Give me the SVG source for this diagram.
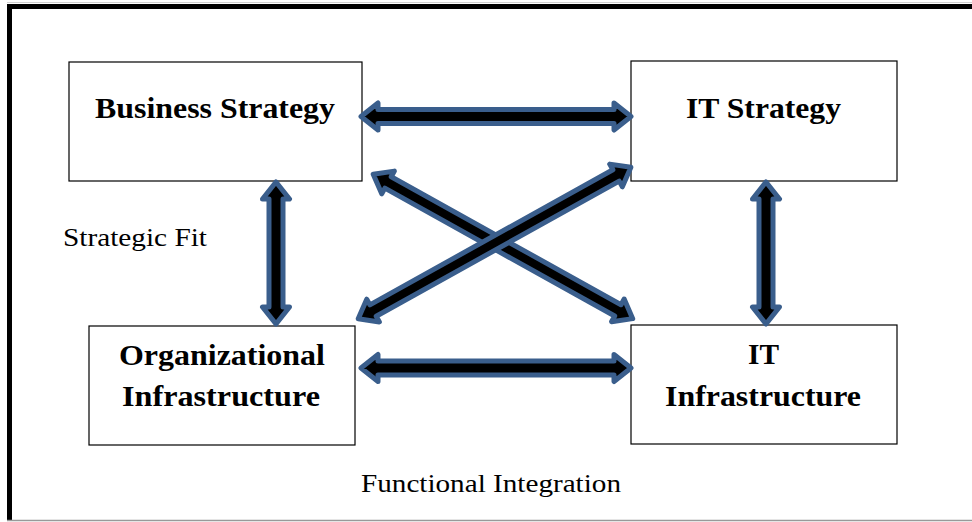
<svg xmlns="http://www.w3.org/2000/svg" width="972" height="522" viewBox="0 0 972 522">
<style>
.box{fill:#fff;stroke:#000;stroke-width:1.2}
.t{font-family:"Liberation Serif",serif;font-weight:bold;font-size:30px;fill:#000}
.lbl{font-family:"Liberation Serif",serif;font-size:25px;fill:#000}
.arr{fill:#000;stroke:#3A5E8C;stroke-width:5;stroke-linejoin:round}
</style>
<rect x="0" y="0" width="972" height="522" fill="#fff"/>
<g id="frame">
<line x1="7" y1="2.5" x2="972" y2="2.5" stroke="#d0d0d0" stroke-width="1"/>
<rect x="7" y="4" width="965" height="5" fill="#000"/>
<rect x="7" y="4" width="5" height="517" fill="#000"/>
<line x1="7" y1="520.5" x2="972" y2="520.5" stroke="#999" stroke-width="1.5"/>
</g>
<g id="business-strategy">
<rect class="box" x="69" y="62" width="293" height="119"/>
<text class="t" x="95" y="118" textLength="240" lengthAdjust="spacingAndGlyphs">Business Strategy</text>
</g>
<g id="it-strategy">
<rect class="box" x="631" y="61" width="266" height="120"/>
<text class="t" x="686" y="118" textLength="155" lengthAdjust="spacingAndGlyphs">IT Strategy</text>
</g>
<g id="organizational-infrastructure">
<rect class="box" x="89" y="326" width="266" height="119"/>
<text class="t" x="119" y="365" textLength="206" lengthAdjust="spacingAndGlyphs">Organizational</text>
<text class="t" x="122" y="406" textLength="198" lengthAdjust="spacingAndGlyphs">Infrastructure</text>
</g>
<g id="it-infrastructure">
<rect class="box" x="631" y="325" width="266" height="119"/>
<text class="t" x="748" y="364" textLength="31" lengthAdjust="spacingAndGlyphs">IT</text>
<text class="t" x="665" y="406" textLength="196" lengthAdjust="spacingAndGlyphs">Infrastructure</text>
</g>
<g id="connectors">
<path class="arr" transform="translate(361,116.5)" d="M0,0 L17,-13.5 L17,-7 L253,-7 L253,-13.5 L270,0 L253,13.5 L253,7 L17,7 L17,13.5 Z"/>
<path class="arr" transform="translate(361,368)" d="M0,0 L17,-13.5 L17,-7 L253,-7 L253,-13.5 L270,0 L253,13.5 L253,7 L17,7 L17,13.5 Z"/>
<path class="arr" transform="translate(276,182) rotate(90)" d="M0,0 L17,-13.5 L17,-7 L125,-7 L125,-13.5 L142,0 L125,13.5 L125,7 L17,7 L17,13.5 Z"/>
<path class="arr" transform="translate(766,182) rotate(90)" d="M0,0 L17,-13.5 L17,-7 L125,-7 L125,-13.5 L142,0 L125,13.5 L125,7 L17,7 L17,13.5 Z"/>
<path class="arr" transform="translate(373.2,174.2) rotate(29.1)" d="M0,0 L17,-13 L17,-6.5 L280,-6.5 L280,-13 L297,0 L280,13 L280,6.5 L17,6.5 L17,13 Z"/>
<path class="arr" transform="translate(358.2,318.8) rotate(-29.07)" d="M0,0 L17,-13 L17,-6.5 L295,-6.5 L295,-13 L312,0 L295,13 L295,6.5 L17,6.5 L17,13 Z"/>
</g>
<text class="lbl" x="63" y="246" textLength="144" lengthAdjust="spacingAndGlyphs">Strategic Fit</text>
<text class="lbl" x="361" y="492" textLength="260" lengthAdjust="spacingAndGlyphs">Functional Integration</text>
</svg>
